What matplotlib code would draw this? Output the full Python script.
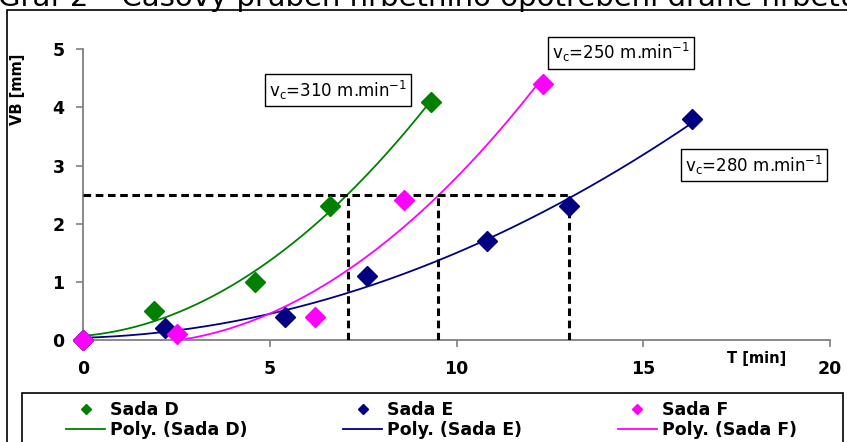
import numpy as np
import matplotlib
matplotlib.use("Agg")
import matplotlib.pyplot as plt
from matplotlib.patches import Rectangle

# namerene hodnoty
t_d = [0, 1.9, 4.6, 6.6, 9.3]
vb_d = [0, 0.5, 1.0, 2.3, 4.1]
t_e = [0, 2.2, 5.4, 7.6, 10.8, 13.0, 16.3]
vb_e = [0, 0.2, 0.4, 1.1, 1.7, 2.3, 3.8]
t_f = [0, 2.5, 6.2, 8.6, 12.3]
vb_f = [0, 0.1, 0.4, 2.4, 4.4]

vb_limit = 2.5
t_limits = [7.1, 9.5, 13.0]

series = [("Sada D", t_d, vb_d, "#008000"),
          ("Sada E", t_e, vb_e, "#000080"),
          ("Sada F", t_f, vb_f, "#FF00FF")]

fig = plt.figure(figsize=(8.47, 4.42), dpi=100)
ax = fig.add_axes([83.3 / 847, 102 / 442, 746.7 / 847, 290.7 / 442])

handles = []
for name, t, vb, col in series:
    pts, = ax.plot(t, vb, "D", ms=10, color=col, ls="none", clip_on=False,
                   zorder=5, label=name)
    coef = np.polyfit(t, vb, 2)
    tt = np.linspace(min(t), max(t), 200)
    fit, = ax.plot(tt, np.polyval(coef, tt), color=col, lw=1.3,
                   label="Poly. (%s)" % name)
    handles += [pts, fit]

ax.hlines(vb_limit, 0, max(t_limits), colors="black", lw=2.2,
          linestyles=(0, (2.5, 1.5)), zorder=3)
ax.vlines(t_limits, 0, vb_limit, colors="black", lw=2.2,
          linestyles=(0, (2.5, 1.5)), zorder=3)

box = dict(boxstyle="square,pad=0.25", fc="white", ec="black", lw=1)
ax.text(6.82, 4.30, r"v$_\mathregular{c}$=310 m.min$^\mathregular{-1}$",
        fontsize=12, ha="center", va="center", bbox=box)
ax.text(14.4, 4.94, r"v$_\mathregular{c}$=250 m.min$^\mathregular{-1}$",
        fontsize=12, ha="center", va="center", bbox=box)
ax.text(17.96, 3.01, r"v$_\mathregular{c}$=280 m.min$^\mathregular{-1}$",
        fontsize=12, ha="center", va="center", bbox=box)

ax.set_xlim(0, 20)
ax.set_ylim(0, 5)
ax.set_xticks([0, 5, 10, 15, 20])
ax.set_yticks([0, 1, 2, 3, 4, 5])
for s in ["top", "right"]:
    ax.spines[s].set_visible(False)
for s in ["left", "bottom"]:
    ax.spines[s].set_color("#808080")
    ax.spines[s].set_linewidth(1.3)
ax.tick_params(axis="both", direction="out", length=5, width=1.2,
               color="#808080", labelsize=12.5)
ax.tick_params(axis="y", pad=8.5)
ax.tick_params(axis="x", pad=9.5)
for lab in ax.get_xticklabels() + ax.get_yticklabels():
    lab.set_fontweight("bold")

ax.set_ylabel("VB [mm]", fontsize=10.5, fontweight="bold")
ax.yaxis.set_label_coords(-0.078, 0.863)
ax.set_xlabel("T [min]", fontsize=10.5, fontweight="bold")
ax.xaxis.set_label_coords(0.902, -0.038)

# vnejsi ramecek a ramecek legendy
fig.patches.append(Rectangle((7 / 847, -0.1), 1.2, 1 - 10 / 442 + 0.1,
                             transform=fig.transFigure, fill=False,
                             ec="black", lw=1.2))
fig.patches.append(Rectangle((22 / 847, -0.1), (843 - 22) / 847, 1 - 393 / 442 + 0.1,
                             transform=fig.transFigure, fill=False,
                             ec="black", lw=1.2))

fig.legend(handles=handles, ncol=3, loc="upper left", mode="expand",
           bbox_to_anchor=(66 / 847, 1 - 405 / 442, (797 - 66) / 847, 0.01),
           frameon=False, borderpad=0, borderaxespad=0, markerscale=0.5,
           prop={"weight": "bold", "size": 12.5}, handlelength=2.25,
           handletextpad=0.3, labelspacing=0.15)

fig.text(-0.002, 1 - 6 / 442,
         "Graf 2 – Časový průběh hřbetního opotřebení drahé hřbetu",
         fontsize=21, va="baseline", ha="left")

fig.savefig("out.png", dpi=100)
